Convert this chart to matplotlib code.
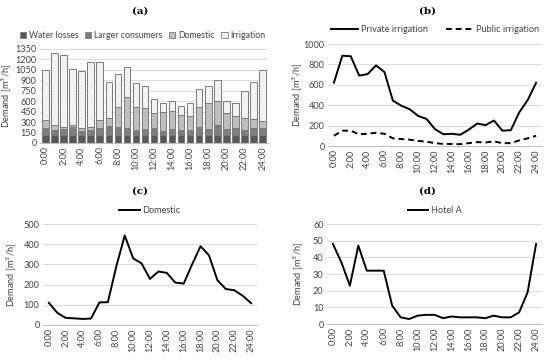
import matplotlib
matplotlib.use("Agg")
import matplotlib.pyplot as plt
from matplotlib.patches import Patch

hours = list(range(25))
hour_labels = [f"{h}:00" for h in hours]

# Panel (a) stacked components
water_losses = [120, 120, 120, 120, 120, 120, 120, 120, 120, 120, 120, 120, 120,
                120, 120, 120, 120, 120, 120, 120, 120, 120, 120, 120, 120]
larger_consumers = [95, 70, 75, 110, 55, 70, 95, 120, 110, 95, 70, 85, 90,
                    55, 80, 65, 65, 105, 75, 140, 85, 95, 70, 90, 95]
domestic_a = [110, 70, 35, 30, 40, 40, 115, 115, 290, 445, 325, 295, 220,
              265, 260, 215, 200, 295, 375, 340, 225, 170, 165, 135, 105]
irrigation_a = [720, 1030, 1030, 800, 820, 930, 840, 520, 470, 425, 350, 320, 195,
                140, 140, 125, 195, 260, 250, 305, 180, 195, 390, 535, 725]

# Panel (b)
private_irr = [620, 885, 880, 690, 705, 790, 725, 445, 395, 360, 295, 265, 165,
               115, 120, 110, 160, 220, 205, 250, 150, 155, 330, 450, 620]
public_irr = [100, 150, 150, 115, 120, 130, 120, 75, 68, 62, 50, 42, 28,
              20, 20, 18, 28, 38, 35, 45, 28, 28, 55, 75, 100]

# Panel (c)
domestic = [110, 60, 35, 33, 30, 32, 112, 113, 290, 443, 330, 305, 228,
            265, 258, 210, 205, 300, 390, 345, 222, 178, 172, 145, 108]

# Panel (d)
hotel_a = [48, 37, 23, 47, 32, 32, 32, 11, 4, 3, 5, 5.5, 5.5,
           3.5, 4.5, 4, 4, 4, 3.5, 5, 4, 4, 7, 19, 48]

W, H = 550, 360
plt.rcParams['font.family'] = ['Lato', 'DejaVu Sans']
fig = plt.figure(figsize=(5.5, 3.6), dpi=100)
txt = '#404040'
grid_c = '#d9d9d9'
fs = 6.6


def add_ax(left, right, top, bottom):
    return fig.add_axes([left / W, 1 - bottom / H, (right - left) / W, (bottom - top) / H])


def style(ax, ylim, yticks, label_x, left):
    ax.set_ylim(*ylim)
    ax.set_yticks(yticks)
    ax.set_xticks(hours[::2])
    ax.set_xticklabels(hour_labels[::2], rotation=90)
    for s in ['top', 'right', 'left']:
        ax.spines[s].set_visible(False)
    ax.spines['bottom'].set_color('#bfbfbf')
    ax.spines['bottom'].set_linewidth(0.8)
    ax.tick_params(axis='both', labelsize=fs, colors=txt, length=0, pad=2.5)
    ax.yaxis.grid(True, color=grid_c, linewidth=0.7)
    ax.set_axisbelow(True)
    ax.set_ylabel('Demand [m$^3$/h]', fontsize=fs, color=txt)
    w = ax.get_position().width * W
    ax.yaxis.set_label_coords((label_x - left) / w, 0.5)


def title(x, y, s):
    fig.text(x / W, 1 - y / H, s, ha='center', va='center', fontsize=7.5,
             fontweight='bold', family='DejaVu Serif', color='black')


# (a)
ax = add_ax(40, 268, 49, 143)
cols = ['#595959', '#7f7f7f', '#bfbfbf', '#f2f2f2']
names = ['Water losses', 'Larger consumers', 'Domestic', 'Irrigation']
bottom = [0] * 25
for vals, c in zip([water_losses, larger_consumers, domestic_a, irrigation_a], cols):
    ax.bar(hours, vals, bottom=bottom, width=0.72, color=c, edgecolor='#7a7a7a', linewidth=0.7)
    bottom = [b + v for b, v in zip(bottom, vals)]
ax.set_xlim(-0.6, 24.6)
style(ax, (0, 1350), range(0, 1351, 150), 14, 40)
handles = [Patch(facecolor=c, edgecolor='#7a7a7a', linewidth=0.6) for c in cols]
ax.legend(handles, names, loc='lower center', bbox_to_anchor=(0.45, 1.06), ncol=4,
          frameon=False, fontsize=6.3, handlelength=0.7, handleheight=0.7,
          handletextpad=0.3, columnspacing=0.8, labelcolor=txt, borderaxespad=0)
title(140, 11, '(a)')

# (b)
ax = add_ax(328, 542, 44, 146)
ax.plot(hours, private_irr, color='black', linewidth=1.4, label='Private irrigation')
ax.plot(hours, public_irr, color='black', linewidth=1.4, linestyle=(0, (3, 2)), label='Public irrigation')
ax.set_xlim(-0.7, 24.7)
style(ax, (0, 1000), range(0, 1001, 200), 305, 328)
ax.legend(loc='lower center', bbox_to_anchor=(0.5, 1.06), ncol=2, frameon=False,
          fontsize=fs, handlelength=3.0, handletextpad=0.3, columnspacing=2.0,
          labelcolor=txt, borderaxespad=0)
title(427, 11, '(b)')

# (c)
ax = add_ax(43, 257, 224, 325)
ax.plot(hours, domestic, color='black', linewidth=1.4, label='Domestic')
ax.set_xlim(-0.7, 24.7)
style(ax, (0, 500), range(0, 501, 100), 19, 43)
ax.legend(loc='lower center', bbox_to_anchor=(0.5, 1.05), ncol=1, frameon=False,
          fontsize=fs, handlelength=2.2, handletextpad=0.3, labelcolor=txt, borderaxespad=0)
title(140, 191, '(c)')

# (d)
ax = add_ax(327, 542, 224, 324)
ax.plot(hours, hotel_a, color='black', linewidth=1.4, label='Hotel A')
ax.set_xlim(-0.7, 24.7)
style(ax, (0, 60), range(0, 61, 10), 306, 327)
ax.legend(loc='lower center', bbox_to_anchor=(0.5, 1.05), ncol=1, frameon=False,
          fontsize=fs, handlelength=2.2, handletextpad=0.3, labelcolor=txt, borderaxespad=0)
title(427, 191, '(d)')

fig.savefig('out.png', dpi=100, facecolor='white')
